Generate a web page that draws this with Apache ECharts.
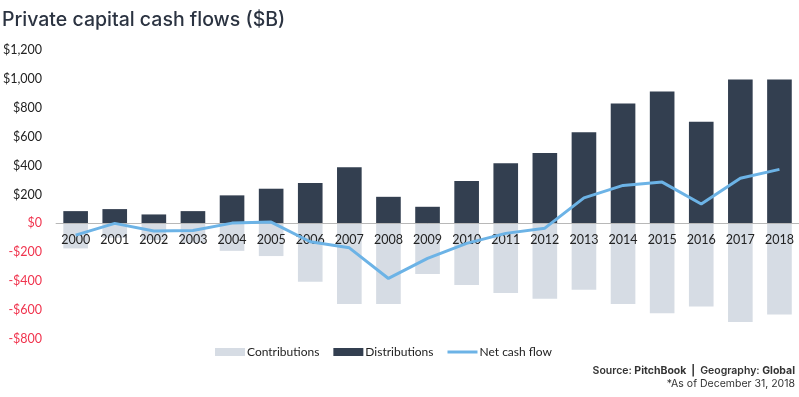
<!DOCTYPE html>
<html>
<head>
<meta charset="utf-8">
<script src="https://cdn.jsdelivr.net/npm/echarts@6/dist/echarts.min.js"></script>
<style>
html,body{margin:0;padding:0;background:#fff;}
#chart{width:799px;height:397px;}
</style>
</head>
<body>
<div id="chart"></div>
<script>
const years = ['2000','2001','2002','2003','2004','2005','2006','2007','2008','2009','2010','2011','2012','2013','2014','2015','2016','2017','2018'];
const contributions = [-173,-99,-115,-134,-190,-226,-404,-558,-558,-351,-427,-482,-522,-459,-558,-621,-575,-683,-630];
const distributions = [85,99,62,85,194,240,279,388,184,115,293,417,487,630,830,913,703,996,996];
const netCashFlow = [-81,0,-53,-49,2,9,-127,-169,-381,-242,-138,-69,-33,177,263,286,134,313,374];
const yTicks = {min:-800, max:1200, interval:200};

const chart = echarts.init(document.getElementById('chart'));
function fmt(v){
  const s = '$' + Math.abs(v).toLocaleString('en-US');
  return v < 0 ? '-' + s : s;
}
const gridTop = 50, gridH = 289;
// distance (px) from the grid bottom up to the zero value
const zeroOffset = gridH * (0 - yTicks.min) / (yTicks.max - yTicks.min);
chart.setOption({
  animation:false,
  title:[{
    text:'Private capital cash flows ($B)',
    left:2, top:10, padding:0,
    textStyle:{fontFamily:'Inter', fontSize:19.5, fontWeight:500, color:'#2b3341'}
  },{
    text:'{b|Source:} PitchBook  |  {b|Geography:} Global',
    right:4, top:365, padding:0,
    textStyle:{fontFamily:'Inter', fontSize:10.5, color:'#333', rich:{b:{fontFamily:'Inter', fontSize:10.5, fontWeight:600, color:'#333'}}}
  },{
    text:'*As of December 31, 2018',
    right:4, top:378, padding:0,
    textStyle:{fontFamily:'Inter', fontSize:10.5, fontWeight:'normal', color:'#333'}
  }],
  legend:{
    top:341, left:210,
    itemWidth:30, itemHeight:8, itemGap:14,
    textStyle:{fontFamily:'Lato', fontSize:12, color:'#222', padding:[0,0,0,-3]},
    data:[
      {name:'Contributions', icon:'rect'},
      {name:'Distributions', icon:'rect'},
      {name:'Net cash flow', icon:'path://M0,0 H30 V3 H0 Z'}
    ]
  },
  grid:{left:54, top:gridTop, width:746, height:gridH, containLabel:false},
  xAxis:{
    type:'category', data:years, z:10,
    offset:-zeroOffset,
    axisLine:{onZero:false, lineStyle:{color:'#b8b8b8', width:1}},
    axisTick:{show:false},
    axisLabel:{fontFamily:'Lato', fontSize:12.5, color:'#222', margin:10, interval:0, hideOverlap:false}
  },
  yAxis:{
    type:'value', min:yTicks.min, max:yTicks.max, interval:yTicks.interval,
    splitLine:{show:false}, axisLine:{show:false}, axisTick:{show:false},
    axisLabel:{
      fontFamily:'Lato', fontSize:12.5, margin:14,
      formatter:fmt,
      color:function(v){ return Number(v) <= 0 ? '#f0344e' : '#222'; }
    }
  },
  series:[
    {name:'Contributions', type:'bar', data:contributions, barWidth:'63%', barGap:'-100%',
     itemStyle:{color:'#d6dce4'}},
    {name:'Distributions', type:'bar', data:distributions, barWidth:'63%',
     itemStyle:{color:'#333f50'}},
    {name:'Net cash flow', type:'line', data:netCashFlow, z:20, symbol:'none',
     lineStyle:{color:'#6cb3e6', width:3}, itemStyle:{color:'#6cb3e6'}}
  ]
});
</script>
</body>
</html>
